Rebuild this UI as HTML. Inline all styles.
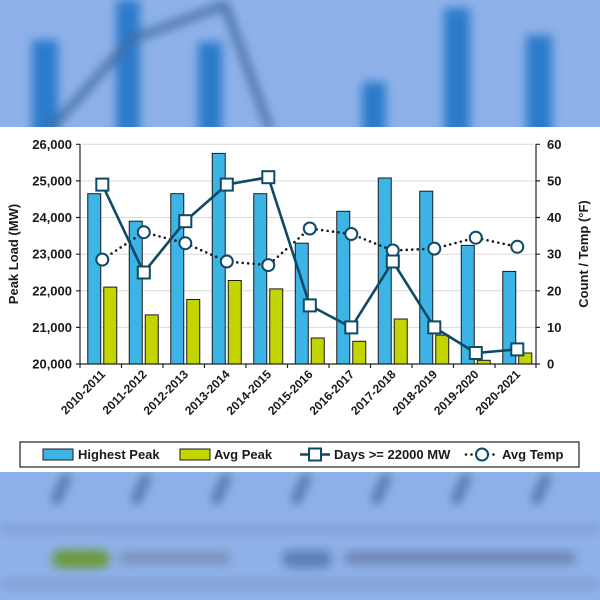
<!DOCTYPE html>
<html><head><meta charset="utf-8"><style>
html,body{margin:0;padding:0;width:600px;height:600px;overflow:hidden;background:#8fb1e9;}
svg{display:block;font-family:"Liberation Sans",Arial,sans-serif;}
</style></head><body>
<svg width="600" height="600" viewBox="0 0 600 600" xmlns="http://www.w3.org/2000/svg">
<defs>
<filter id="b" x="-50%" y="-50%" width="200%" height="200%"><feGaussianBlur stdDeviation="5"/></filter>
</defs>
<rect width="600" height="600" fill="#8fb1e9"/>
<g filter="url(#b)">
<rect x="32" y="40" width="26" height="100" fill="#2a7acb"/>
<rect x="116" y="0" width="24" height="140" fill="#2a7acb"/>
<rect x="198" y="42" width="24" height="100" fill="#2a7acb"/>
<rect x="362" y="82" width="24" height="60" fill="#2a7acb"/>
<rect x="444" y="8" width="26" height="135" fill="#2a7acb"/>
<rect x="526" y="35" width="26" height="105" fill="#2a7acb"/>
<polyline points="50,130 130,40 225,5 270,130" fill="none" stroke="#3c6aa0" stroke-width="7"/>
<rect x="0" y="525" width="600" height="8" fill="#7e9dd0"/>
<rect x="0" y="580" width="600" height="8" fill="#7e9dd0"/>
<rect x="52" y="550" width="58" height="18" rx="9" fill="#6a9a3a"/>
<rect x="120" y="552" width="110" height="12" fill="#7a8fb8"/>
<rect x="282" y="550" width="50" height="18" rx="9" fill="#5b7fb3"/>
<rect x="345" y="552" width="230" height="12" fill="#6a82b0"/>
<g stroke="#4e6fa3" stroke-width="9" stroke-linecap="round">
<line x1="66" y1="478" x2="56" y2="500"/>
<line x1="146" y1="478" x2="136" y2="500"/>
<line x1="226" y1="478" x2="216" y2="500"/>
<line x1="306" y1="478" x2="296" y2="500"/>
<line x1="386" y1="478" x2="376" y2="500"/>
<line x1="466" y1="478" x2="456" y2="500"/>
<line x1="546" y1="478" x2="536" y2="500"/>
</g>
</g>
<rect x="0" y="127" width="600" height="345" fill="#fff"/>
<g stroke="#d9d9d9" stroke-width="1">
<line x1="80" y1="144.3" x2="536" y2="144.3"/>
<line x1="80" y1="180.9" x2="536" y2="180.9"/>
<line x1="80" y1="217.5" x2="536" y2="217.5"/>
<line x1="80" y1="254.2" x2="536" y2="254.2"/>
<line x1="80" y1="290.8" x2="536" y2="290.8"/>
<line x1="80" y1="327.4" x2="536" y2="327.4"/>
</g>
<g fill="#3cb4e5" stroke="#1a1a1a" stroke-width="1">
<rect x="87.75" y="193.7" width="13" height="170.3"/>
<rect x="129.25" y="221.2" width="13" height="142.8"/>
<rect x="170.75" y="193.7" width="13" height="170.3"/>
<rect x="212.25" y="153.4" width="13" height="210.6"/>
<rect x="253.75" y="193.7" width="13" height="170.3"/>
<rect x="295.25" y="243.2" width="13" height="120.8"/>
<rect x="336.75" y="211.3" width="13" height="152.7"/>
<rect x="378.25" y="178" width="13" height="186"/>
<rect x="419.75" y="191.2" width="13" height="172.8"/>
<rect x="461.25" y="245.4" width="13" height="118.6"/>
<rect x="502.75" y="271.4" width="13" height="92.6"/>
</g>
<g fill="#c2d500" stroke="#1a1a1a" stroke-width="1">
<rect x="103.75" y="287.1" width="13" height="76.9"/>
<rect x="145.25" y="314.9" width="13" height="49.1"/>
<rect x="186.75" y="299.5" width="13" height="64.5"/>
<rect x="228.25" y="280.5" width="13" height="83.5"/>
<rect x="269.75" y="288.9" width="13" height="75.1"/>
<rect x="311.25" y="338" width="13" height="26"/>
<rect x="352.75" y="341.3" width="13" height="22.7"/>
<rect x="394.25" y="319" width="13" height="45"/>
<rect x="435.75" y="335.1" width="13" height="28.9"/>
<rect x="477.25" y="360.3" width="13" height="3.7"/>
<rect x="518.75" y="353" width="13" height="11"/>
</g>
<g stroke="#222" stroke-width="1.2" fill="none">
<line x1="80" y1="144.3" x2="80" y2="364"/>
<line x1="536" y1="144.3" x2="536" y2="364"/>
<line x1="80" y1="364" x2="536" y2="364"/>
<path d="M76 144.3H80M76 180.9H80M76 217.5H80M76 254.2H80M76 290.8H80M76 327.4H80M76 364H80"/>
<path d="M536 144.3H540M536 180.9H540M536 217.5H540M536 254.2H540M536 290.8H540M536 327.4H540M536 364H540"/>
<path d="M121.5 364V368M163 364V368M204.5 364V368M246 364V368M287.5 364V368M329 364V368M370.5 364V368M412 364V368M453.5 364V368M495 364V368M536 364V368M80 364V368"/>
</g>
<polyline points="102.3,259.6 143.8,232.2 185.3,243.2 226.8,261.5 268.3,265.1 309.8,228.5 351.3,234 392.8,250.5 434.3,248.6 475.8,237.7 517.3,246.8" fill="none" stroke="#1a1a1a" stroke-width="2.6" stroke-dasharray="0 5.5" stroke-linecap="round"/>
<polyline points="102.3,184.6 143.8,272.5 185.3,221.2 226.8,184.6 268.3,177.2 309.8,305.4 351.3,327.4 392.8,261.5 434.3,327.4 475.8,353 517.3,349.4" fill="none" stroke="#0e4a68" stroke-width="2.6"/>
<g fill="#fff" stroke="#0e4a68" stroke-width="2">
<circle cx="102.3" cy="259.6" r="6"/><circle cx="143.8" cy="232.2" r="6"/><circle cx="185.3" cy="243.2" r="6"/><circle cx="226.8" cy="261.5" r="6"/><circle cx="268.3" cy="265.1" r="6"/><circle cx="309.8" cy="228.5" r="6"/><circle cx="351.3" cy="234" r="6"/><circle cx="392.8" cy="250.5" r="6"/><circle cx="434.3" cy="248.6" r="6"/><circle cx="475.8" cy="237.7" r="6"/><circle cx="517.3" cy="246.8" r="6"/>
<rect x="96.3" y="178.6" width="12" height="12"/><rect x="137.8" y="266.5" width="12" height="12"/><rect x="179.3" y="215.2" width="12" height="12"/><rect x="220.8" y="178.6" width="12" height="12"/><rect x="262.3" y="171.2" width="12" height="12"/><rect x="303.8" y="299.4" width="12" height="12"/><rect x="345.3" y="321.4" width="12" height="12"/><rect x="386.8" y="255.5" width="12" height="12"/><rect x="428.3" y="321.4" width="12" height="12"/><rect x="469.8" y="347" width="12" height="12"/><rect x="511.3" y="343.4" width="12" height="12"/>
</g>
<g font-size="13" font-weight="bold" fill="#1a1a1a" text-anchor="end">
<text x="72" y="149">26,000</text><text x="72" y="185.5">25,000</text><text x="72" y="222">24,000</text><text x="72" y="258.7">23,000</text><text x="72" y="295.3">22,000</text><text x="72" y="332">21,000</text><text x="72" y="368.5">20,000</text>
</g>
<g font-size="13" font-weight="bold" fill="#1a1a1a" text-anchor="start">
<text x="547" y="149">60</text><text x="547" y="185.5">50</text><text x="547" y="222">40</text><text x="547" y="258.7">30</text><text x="547" y="295.3">20</text><text x="547" y="332">10</text><text x="547" y="368.5">0</text>
</g>
<text transform="translate(18,254) rotate(-90)" font-size="13" font-weight="bold" fill="#1a1a1a" text-anchor="middle">Peak Load (MW)</text>
<text transform="translate(588,254) rotate(-90)" font-size="13" font-weight="bold" fill="#1a1a1a" text-anchor="middle">Count  / Temp (°F)</text>
<g font-size="12" font-weight="bold" fill="#1a1a1a" text-anchor="end">
<text transform="translate(106,375) rotate(-45)">2010-2011</text>
<text transform="translate(147.5,375) rotate(-45)">2011-2012</text>
<text transform="translate(189,375) rotate(-45)">2012-2013</text>
<text transform="translate(230.5,375) rotate(-45)">2013-2014</text>
<text transform="translate(272,375) rotate(-45)">2014-2015</text>
<text transform="translate(313.5,375) rotate(-45)">2015-2016</text>
<text transform="translate(355,375) rotate(-45)">2016-2017</text>
<text transform="translate(396.5,375) rotate(-45)">2017-2018</text>
<text transform="translate(438,375) rotate(-45)">2018-2019</text>
<text transform="translate(479.5,375) rotate(-45)">2019-2020</text>
<text transform="translate(521,375) rotate(-45)">2020-2021</text>
</g>
<rect x="20" y="442" width="559" height="25" fill="#fff" stroke="#222" stroke-width="1.2"/>
<rect x="43" y="449" width="30" height="11" fill="#3cb4e5" stroke="#1a1a1a"/>
<rect x="180" y="449" width="30" height="11" fill="#c2d500" stroke="#1a1a1a"/>
<line x1="300" y1="454.5" x2="330" y2="454.5" stroke="#0e4a68" stroke-width="2.6"/>
<rect x="309" y="448.5" width="12" height="12" fill="#fff" stroke="#0e4a68" stroke-width="2"/>
<line x1="466" y1="454.5" x2="498" y2="454.5" stroke="#1a1a1a" stroke-width="2.6" stroke-dasharray="0 5.5" stroke-linecap="round"/>
<circle cx="482" cy="454.5" r="6" fill="#fff" stroke="#0e4a68" stroke-width="2"/>
<g font-size="13" font-weight="bold" fill="#1a1a1a">
<text x="78" y="459">Highest Peak</text>
<text x="214" y="459">Avg Peak</text>
<text x="334" y="459">Days &gt;= 22000 MW</text>
<text x="502" y="459">Avg Temp</text>
</g>
</svg>
</body></html>
